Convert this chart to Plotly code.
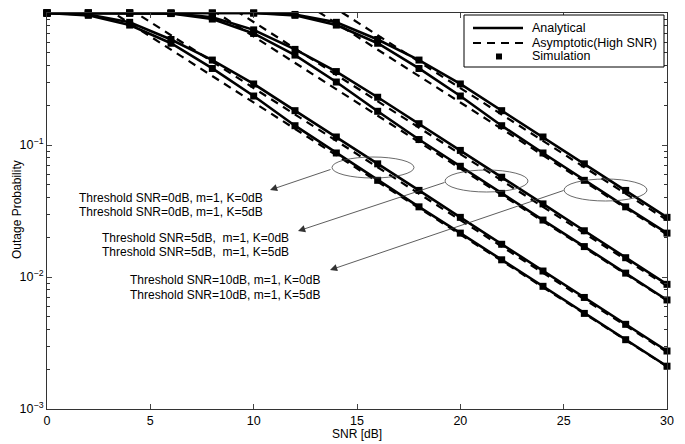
import plotly.graph_objects as go

# ---------------- data ----------------
snr_db = [0, 2, 4, 6, 8, 10, 12, 14, 16, 18, 20, 22, 24, 26, 28, 30]

# Analytical outage probability (simulation markers lie on the same values)
th0_k0 = [1.0, 0.975, 0.85, 0.63, 0.44, 0.29, 0.182, 0.115, 0.072, 0.0453, 0.0283, 0.0177, 0.0111, 0.0070, 0.00438, 0.00275]
th0_k5 = [1.0, 0.96, 0.81, 0.59, 0.38, 0.235, 0.14, 0.087, 0.054, 0.034, 0.0215, 0.0135, 0.0085, 0.0053, 0.00335, 0.00211]
th5_k0 = [1.0, 1.0, 1.0, 0.995, 0.93, 0.745, 0.53, 0.36, 0.23, 0.145, 0.091, 0.057, 0.0358, 0.0224, 0.0140, 0.0088]
th5_k5 = [1.0, 1.0, 1.0, 0.99, 0.90, 0.70, 0.48, 0.30, 0.18, 0.11, 0.069, 0.043, 0.027, 0.017, 0.0107, 0.0067]
th10_k0 = [1.0, 1.0, 1.0, 1.0, 1.0, 1.0, 0.975, 0.85, 0.63, 0.44, 0.29, 0.182, 0.115, 0.072, 0.0453, 0.0283]
th10_k5 = [1.0, 1.0, 1.0, 1.0, 1.0, 1.0, 0.96, 0.81, 0.59, 0.38, 0.235, 0.14, 0.087, 0.054, 0.034, 0.0215]

# Asymptotic (high SNR) outage probability
asy_th0_k0 = [2.7, 1.70, 1.075, 0.678, 0.428, 0.27, 0.170, 0.1075, 0.0678, 0.0428, 0.027, 0.0170, 0.01075, 0.00678, 0.00428, 0.0027]
asy_th0_k5 = [2.1, 1.325, 0.836, 0.527, 0.333, 0.21, 0.1325, 0.0836, 0.0527, 0.0333, 0.021, 0.01325, 0.00836, 0.00527, 0.00333, 0.0021]
asy_th5_k0 = [8.54, 5.39, 3.40, 2.14, 1.35, 0.854, 0.539, 0.340, 0.214, 0.135, 0.0854, 0.0539, 0.0340, 0.0214, 0.0135, 0.00854]
asy_th5_k5 = [6.64, 4.19, 2.64, 1.67, 1.05, 0.664, 0.419, 0.264, 0.167, 0.105, 0.0664, 0.0419, 0.0264, 0.0167, 0.0105, 0.00664]
asy_th10_k0 = [27.0, 17.0, 10.75, 6.78, 4.28, 2.7, 1.70, 1.075, 0.678, 0.428, 0.27, 0.170, 0.1075, 0.0678, 0.0428, 0.027]
asy_th10_k5 = [21.0, 13.25, 8.36, 5.27, 3.33, 2.1, 1.325, 0.836, 0.527, 0.333, 0.21, 0.1325, 0.0836, 0.0527, 0.0333, 0.021]

x_ticks = [0, 5, 10, 15, 20, 25, 30]
y_ticks = [1e-3, 1e-2, 1e-1, 1]
y_tick_text = ["10<sup>−3</sup>", "10<sup>−2</sup>", "10<sup>−1</sup>", "10<sup>0</sup>"]
y_minor = [m * 10 ** e for e in (-3, -2, -1) for m in range(2, 10)]

labels = [
    "Threshold SNR=0dB, m=1, K=0dB",
    "Threshold SNR=0dB, m=1, K=5dB",
    "Threshold SNR=5dB,  m=1, K=0dB",
    "Threshold SNR=5dB,  m=1, K=5dB",
    "Threshold SNR=10dB, m=1, K=0dB",
    "Threshold SNR=10dB, m=1, K=5dB",
]
legend_names = ["Analytical", "Asymptotic(High SNR)", "Simulation"]

analytic = [th0_k0, th0_k5, th5_k0, th5_k5, th10_k0, th10_k5]
asymptotic = [asy_th0_k0, asy_th0_k5, asy_th5_k0, asy_th5_k5, asy_th10_k0, asy_th10_k5]

FONT = "Liberation Sans, Arial, Helvetica, sans-serif"
DASH = "8px,6px"

fig = go.Figure()
for i, ys in enumerate(analytic):
    fig.add_trace(go.Scatter(x=snr_db, y=ys, mode="lines", name=legend_names[0],
                             showlegend=False, line=dict(color="black", width=2.6)))
for i, ys in enumerate(asymptotic):
    fig.add_trace(go.Scatter(x=snr_db, y=ys, mode="lines", name=legend_names[1],
                             showlegend=False, line=dict(color="black", width=2.2, dash=DASH)))
for i, ys in enumerate(analytic):
    fig.add_trace(go.Scatter(x=snr_db, y=ys, mode="markers", name=legend_names[2],
                             showlegend=False, cliponaxis=False,
                             marker=dict(color="black", symbol="square", size=7)))

# ---------------- layout ----------------
OFF = 8                      # default page margin of the browser body
W, H = 685 - OFF, 444 - OFF
L, R, T, B = 47 - OFF, 18, 13 - OFF, 35
PW, PH = W - L - R, H - T - B


def px(xp):
    """page x pixel -> paper coordinate"""
    return (xp - OFF - L) / PW


def py(yp):
    """page y pixel -> paper coordinate"""
    return (H - B - (yp - OFF)) / PH


shapes = []
for (x0, x1, y0, y1) in [(332, 414, 157, 178), (445, 528, 170, 192), (564, 647, 179, 201)]:
    shapes.append(dict(type="circle", xref="paper", yref="paper",
                       x0=px(x0), x1=px(x1), y0=py(y1), y1=py(y0),
                       line=dict(color="#444444", width=0.8)))

# legend drawn by hand (box, samples, labels)
shapes.append(dict(type="rect", xref="paper", yref="paper",
                   x0=px(464), x1=px(664), y0=py(67), y1=py(15),
                   fillcolor="white", line=dict(color="black", width=1), layer="above"))
shapes.append(dict(type="line", xref="paper", yref="paper",
                   x0=px(473), x1=px(523), y0=py(28), y1=py(28),
                   line=dict(color="black", width=2.6), layer="above"))
shapes.append(dict(type="line", xref="paper", yref="paper",
                   x0=px(473), x1=px(523), y0=py(43), y1=py(43),
                   line=dict(color="black", width=2.2, dash=DASH), layer="above"))
shapes.append(dict(type="rect", xref="paper", yref="paper",
                   x0=px(496), x1=px(502), y0=py(59.5), y1=py(53.5),
                   fillcolor="black", line=dict(color="black", width=0), layer="above"))

annotations = []
for name, ly in zip(legend_names, [27.5, 42.5, 55.5]):
    annotations.append(dict(x=px(530), y=py(ly), xref="paper", yref="paper",
                            xanchor="left", yanchor="middle", showarrow=False,
                            text=name, font=dict(size=12.5, color="black", family=FONT)))

# arrows (head, tail offset in px)
for (hx, hy, tx, ty) in [(270, 190, 332, 169), (298, 231, 446, 182), (330, 270, 565, 190)]:
    annotations.append(dict(x=px(hx), y=py(hy), xref="paper", yref="paper",
                            ax=tx - hx, ay=ty - hy, axref="pixel", ayref="pixel",
                            text="", showarrow=True, arrowhead=2, arrowsize=1.8,
                            arrowwidth=0.8, arrowcolor="#333333", standoff=0))

text_pos = [(77, 198), (77, 212), (100, 238), (100, 252), (128, 280), (128, 295)]
for lab, (tx, ty) in zip(labels, text_pos):
    annotations.append(dict(x=px(tx), y=py(ty), xref="paper", yref="paper",
                            xanchor="left", yanchor="middle", showarrow=False,
                            text=lab, font=dict(size=12, color="black", family=FONT)))

annotations.append(dict(x=px(357), y=py(434), xref="paper", yref="paper",
                        xanchor="center", yanchor="middle", showarrow=False,
                        text="SNR [dB]", font=dict(size=12, color="black", family=FONT)))
annotations.append(dict(x=px(OFF), y=py(210), xref="paper", yref="paper",
                        xanchor="left", yanchor="middle", showarrow=False, textangle=-90,
                        text="Outage Probability", font=dict(size=12, color="black", family=FONT)))

fig.update_layout(
    width=W, height=H,
    margin=dict(l=L, r=R, t=T, b=B, pad=0),
    paper_bgcolor="white", plot_bgcolor="white",
    font=dict(family=FONT, size=12, color="black"),
    shapes=shapes, annotations=annotations,
    showlegend=False,
)
fig.update_xaxes(range=[0, 30], tickvals=x_ticks, ticks="inside", ticklen=5,
                 showline=True, linecolor="#333333", linewidth=1, mirror="ticks",
                 showgrid=False, zeroline=False, tickfont=dict(size=12.5),
                 automargin=False)
fig.update_yaxes(type="log", range=[-3, 0], tickvals=y_ticks, ticktext=y_tick_text,
                 ticks="inside", ticklen=5, showline=True, linecolor="#333333",
                 linewidth=1, mirror="ticks", showgrid=False, zeroline=False,
                 tickfont=dict(size=12.5), automargin=False,
                 minor=dict(tickvals=y_minor, ticks="inside", ticklen=3,
                            tickcolor="#333333", showgrid=False))

fig.write_html("out.html")
